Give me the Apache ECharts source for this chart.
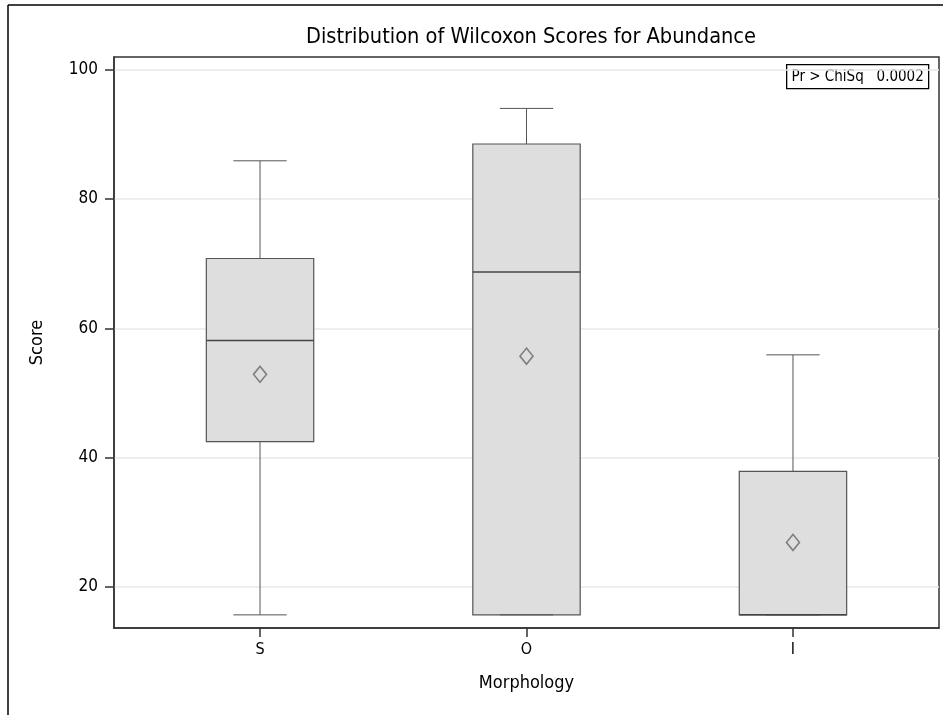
<!DOCTYPE html>
<html>
<head>
<meta charset="utf-8">
<script src="https://cdn.jsdelivr.net/npm/echarts@6/dist/echarts.min.js"></script>
<style>html,body{margin:0;padding:0;background:#fff;}#c{width:943px;height:715px;}</style>
</head>
<body>
<div id="c"></div>
<script>
const categories = ['S', 'O', 'I'];
const whiskerLow = [15.7, 15.7, 15.7];
const q1 = [42.5, 15.7, 15.7];
const median = [58.1, 68.7, 15.7];
const q3 = [70.8, 88.5, 37.9];
const whiskerHigh = [85.9, 94.0, 55.9];
const means = [52.9, 55.7, 26.9];
const yTicks = [20, 40, 60, 80, 100];
const pValueText = 'Pr > ChiSq   0.0002';

const FONT = "'Liberation Sans Narrow', 'DejaVu Sans Condensed', 'Liberation Sans', sans-serif";
const BOX_W = 0.403;
const CAP_W = 0.2;

const boxRows = categories.map((c, i) => [i, whiskerLow[i], q1[i], median[i], q3[i], whiskerHigh[i]]);
const meanRows = categories.map((c, i) => [i, means[i]]);

const chart = echarts.init(document.getElementById('c'));
chart.setOption({
  animation: false,
  backgroundColor: '#fff',
  title: {
    text: 'Distribution of Wilcoxon Scores for Abundance',
    left: 526, textAlign: 'center', top: 21,
    textStyle: { fontFamily: FONT, fontSize: 21.6, fontWeight: 'normal', color: '#000' }
  },
  grid: {
    left: 114, right: 4, top: 57, bottom: 87,
    show: true, borderColor: '#333', borderWidth: 1.5, backgroundColor: 'transparent'
  },
  xAxis: {
    type: 'value', min: -0.548, max: 2.548,
    name: 'Morphology', nameLocation: 'middle', nameGap: 46,
    nameTextStyle: { fontFamily: FONT, fontSize: 18, color: '#000' },
    axisLine: { show: true, onZero: false, lineStyle: { color: '#333', width: 1.5 } },
    axisTick: { show: true, length: 9, customValues: [0, 1, 2], lineStyle: { color: '#333', width: 1.5 } },
    axisLabel: { customValues: [0, 1, 2], margin: 14, fontFamily: FONT, fontSize: 16, color: '#000',
      formatter: v => categories[Math.round(v)] },
    splitLine: { show: false }
  },
  yAxis: {
    type: 'value', min: 13.67, max: 101.95,
    name: 'Score', nameLocation: 'middle', nameGap: 68,
    nameTextStyle: { fontFamily: FONT, fontSize: 18, color: '#000' },
    axisLine: { show: true, onZero: false, lineStyle: { color: '#333', width: 1.5 } },
    axisTick: { show: true, length: 9, customValues: yTicks, lineStyle: { color: '#333', width: 1.5 } },
    axisLabel: { customValues: yTicks, margin: 16, fontFamily: FONT, fontSize: 17, color: '#000' },
    splitLine: { show: true, lineStyle: { color: '#e9e9e9', width: 1.5 } }
  },
  graphic: [
    { type: 'line', shape: { x1: 8, y1: 5, x2: 8, y2: 715 }, style: { stroke: '#000', lineWidth: 1.5 } },
    { type: 'line', shape: { x1: 8, y1: 5, x2: 943, y2: 5 }, style: { stroke: '#000', lineWidth: 1.5 } },
    { type: 'group', left: 786, top: 64, z: 10,
      children: [
        { type: 'rect', shape: { x: 0, y: 0, width: 142, height: 24 },
          style: { fill: '#fff', stroke: '#000', lineWidth: 1.3 } },
        { type: 'text', x: 71, y: 12,
          style: { text: pValueText, fontFamily: FONT, fontSize: 15, fill: '#000',
            align: 'center', verticalAlign: 'middle' } }
      ]
    }
  ],
  series: [
    {
      type: 'custom',
      data: boxRows,
      encode: { x: 0, y: [1, 2, 3, 4, 5] },
      renderItem: function (params, api) {
        const x = api.value(0);
        const pLow = api.coord([x, api.value(1)]);
        const pQ1 = api.coord([x, api.value(2)]);
        const pMed = api.coord([x, api.value(3)]);
        const pQ3 = api.coord([x, api.value(4)]);
        const pHigh = api.coord([x, api.value(5)]);
        const half = api.size([BOX_W, 0])[0] / 2;
        const cap = api.size([CAP_W, 0])[0] / 2;
        const cx = pQ1[0];
        const lineStyle = { stroke: '#555', lineWidth: 1, fill: null };
        return {
          type: 'group',
          children: [
            { type: 'line', shape: { x1: cx, y1: pQ3[1], x2: cx, y2: pHigh[1] }, style: lineStyle },
            { type: 'line', shape: { x1: cx, y1: pQ1[1], x2: cx, y2: pLow[1] }, style: lineStyle },
            { type: 'line', shape: { x1: cx - cap, y1: pHigh[1], x2: cx + cap, y2: pHigh[1] }, style: lineStyle },
            { type: 'rect', shape: { x: cx - half, y: pQ3[1], width: half * 2, height: pQ1[1] - pQ3[1] },
              style: { fill: '#dedede', stroke: '#555', lineWidth: 1.2 } },
            { type: 'line', shape: { x1: cx - cap, y1: pLow[1], x2: cx + cap, y2: pLow[1] }, style: lineStyle },
            { type: 'line', shape: { x1: cx - half, y1: pMed[1], x2: cx + half, y2: pMed[1] },
              style: { stroke: '#444', lineWidth: 1.5 } }
          ]
        };
      },
      z: 2
    },
    {
      type: 'scatter',
      data: meanRows,
      symbol: 'diamond',
      symbolSize: [13, 16],
      itemStyle: { color: 'rgba(0,0,0,0)', borderColor: '#666', borderWidth: 1.6 },
      z: 3
    }
  ]
});
</script>
</body>
</html>
